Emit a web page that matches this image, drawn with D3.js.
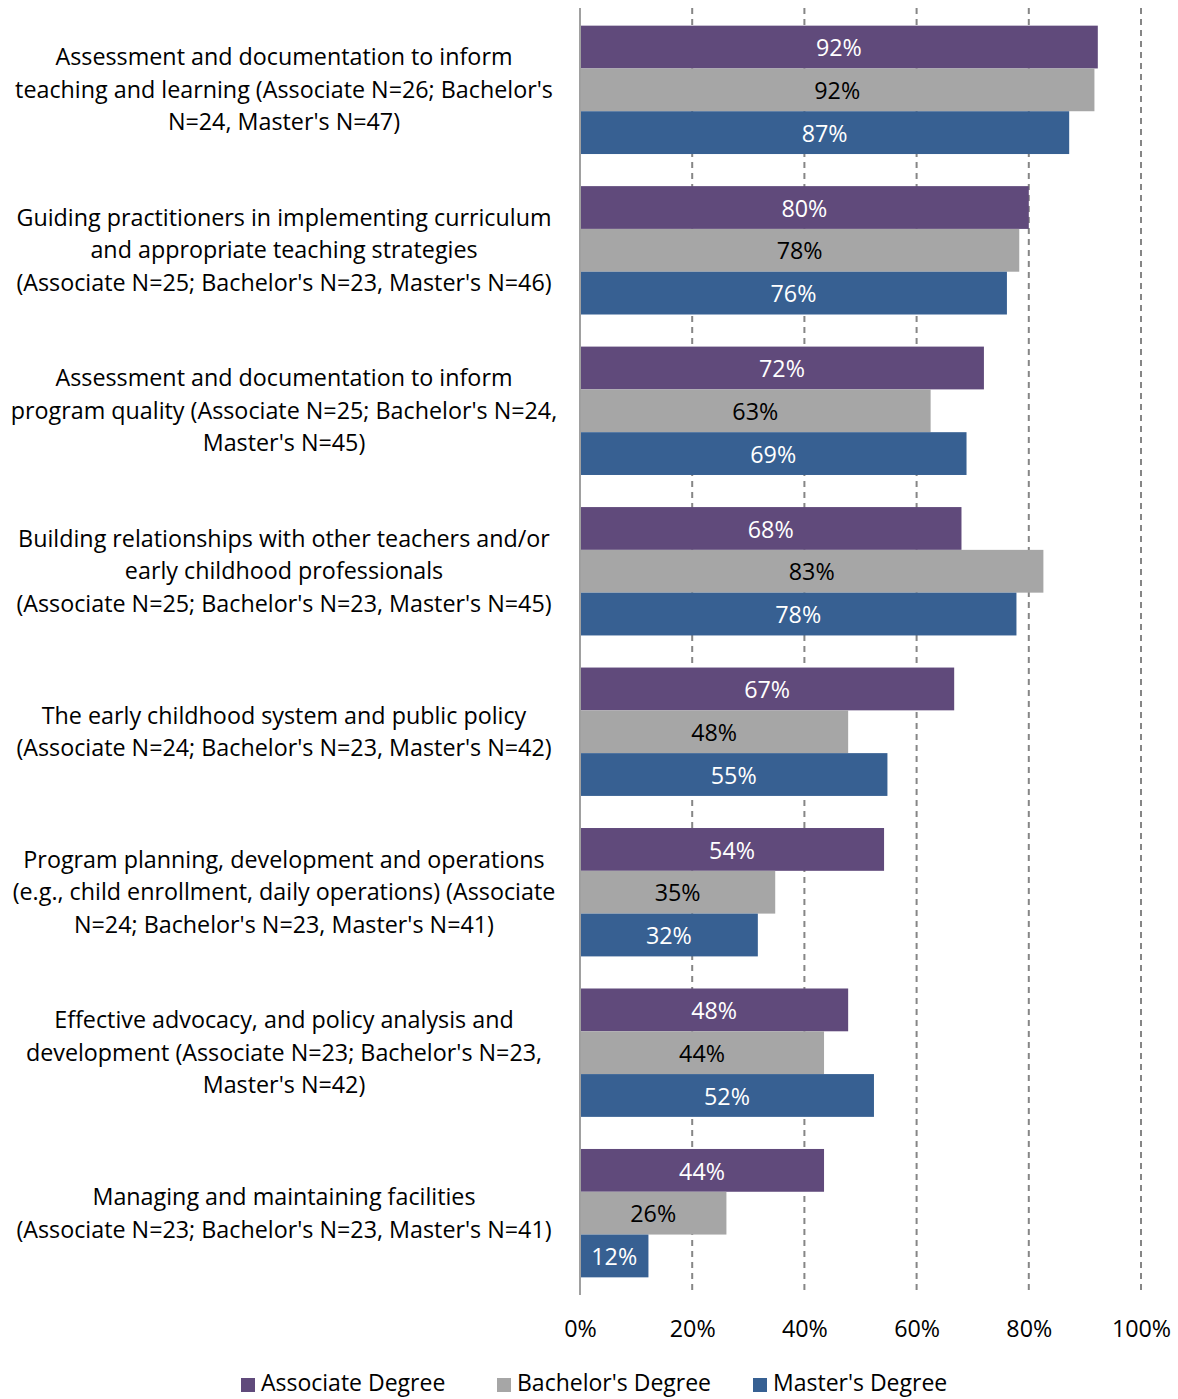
<!DOCTYPE html>
<html>
<head>
<meta charset="utf-8">
<script src="https://cdn.jsdelivr.net/npm/d3@7"></script>
<style>
  html, body { margin: 0; padding: 0; background: #fff; }
  svg text { font-family: "Open Sans", "Noto Sans", sans-serif; }
</style>
</head>
<body>
<svg id="chart" width="1178" height="1399"></svg>
<script>
// Topic labels (each entry is a list of wrapped lines)
const categories = [
  ["Assessment and documentation to inform", "teaching and learning (Associate N=26; Bachelor's", "N=24, Master's N=47)"],
  ["Guiding practitioners in implementing curriculum", "and appropriate teaching strategies", "(Associate N=25; Bachelor's N=23, Master's N=46)"],
  ["Assessment and documentation to inform", "program quality (Associate N=25; Bachelor's N=24,", "Master's N=45)"],
  ["Building relationships with other teachers and/or", "early childhood professionals", "(Associate N=25; Bachelor's N=23, Master's N=45)"],
  ["The early childhood system and public policy", "(Associate N=24; Bachelor's N=23, Master's N=42)"],
  ["Program planning, development and operations", "(e.g., child enrollment, daily operations) (Associate", "N=24; Bachelor's N=23, Master's N=41)"],
  ["Effective advocacy, and policy analysis and", "development (Associate N=23; Bachelor's N=23,", "Master's N=42)"],
  ["Managing and maintaining facilities", "(Associate N=23; Bachelor's N=23, Master's N=41)"]
];

const seriesNames = ["Associate Degree", "Bachelor's Degree", "Master's Degree"];

// Percent of respondents per topic
const associate = [92.3, 80.0, 72.0, 68.0, 66.7, 54.2, 47.8, 43.5];
const bachelor  = [91.7, 78.3, 62.5, 82.6, 47.8, 34.8, 43.5, 26.1];
const master    = [87.2, 76.1, 68.9, 77.8, 54.8, 31.7, 52.4, 12.2];

const xTicks = [0, 20, 40, 60, 80, 100];

const colors = ["#604A7B", "#A6A6A6", "#376092"];
const labelColors = ["#ffffff", "#000000", "#ffffff"];

const series = [associate, bachelor, master];

const fontSize = 23.3;

const svg = d3.select("#chart");
const margin = { left: 580, right: 37, top: 8, bottom: 104 };
const width = 1178 - margin.left - margin.right;
const height = 1399 - margin.top - margin.bottom;

const g = svg.append("g").attr("transform", `translate(${margin.left},${margin.top})`);

const x = d3.scaleLinear().domain([0, 100]).range([0, width]);
const y = d3.scaleBand().domain(d3.range(categories.length)).range([0, height])
  .paddingInner(0.2).paddingOuter(0.11);
const ySub = d3.scaleBand().domain(d3.range(series.length)).range([0, y.bandwidth()]);

// Dashed gridlines
g.append("g").selectAll("line")
  .data(xTicks.filter(t => t > 0))
  .join("line")
  .attr("x1", d => x(d)).attr("x2", d => x(d))
  .attr("y1", 0).attr("y2", height)
  .attr("stroke", "#868686").attr("stroke-width", 2)
  .attr("stroke-dasharray", "6,5");

// Bars
const groups = g.selectAll("g.cat")
  .data(categories.map((c, i) => i))
  .join("g").attr("class", "cat")
  .attr("transform", i => `translate(0,${y(i)})`);

groups.selectAll("rect")
  .data(i => series.map((s, k) => ({ k, v: s[i] })))
  .join("rect")
  .attr("x", 0)
  .attr("y", d => ySub(d.k))
  .attr("width", d => x(d.v))
  .attr("height", ySub.bandwidth())
  .attr("fill", d => colors[d.k]);

groups.selectAll("text.val")
  .data(i => series.map((s, k) => ({ k, v: s[i] })))
  .join("text").attr("class", "val")
  .attr("x", d => x(d.v) / 2)
  .attr("y", d => ySub(d.k) + ySub.bandwidth() / 2 + 1)
  .attr("dy", "0.35em")
  .attr("text-anchor", "middle")
  .attr("font-size", fontSize)
  .attr("fill", d => labelColors[d.k])
  .text(d => Math.round(d.v) + "%");

// Vertical axis line
g.append("line")
  .attr("x1", 0).attr("x2", 0).attr("y1", 0).attr("y2", height)
  .attr("stroke", "#A0A0A0").attr("stroke-width", 2);

// X axis tick labels
const xAxis = d3.axisBottom(x).tickValues(xTicks).tickFormat(d => d + "%").tickSize(0).tickPadding(25);
const ax = g.append("g").attr("transform", `translate(0,${height})`).call(xAxis);
ax.select(".domain").remove();
ax.selectAll("text").attr("font-size", fontSize).attr("fill", "#000")
  .style("font-family", "'Open Sans', 'Noto Sans', sans-serif");

// Category labels
const catLabels = svg.append("g");
categories.forEach((lines, i) => {
  const cy = margin.top + y(i) + y.bandwidth() / 2;
  const lh = 32.5;
  const t = catLabels.append("text")
    .attr("x", 284)
    .attr("text-anchor", "middle")
    .attr("font-size", fontSize)
    .attr("fill", "#000");
  lines.forEach((line, j) => {
    t.append("tspan")
      .attr("x", 284)
      .attr("y", cy + (j - (lines.length - 1) / 2) * lh)
      .attr("dy", "0.35em")
      .text(line);
  });
});

// Legend
const legendX = [241, 497, 753];
const legend = svg.append("g").attr("transform", "translate(0,1384)");
seriesNames.forEach((name, k) => {
  legend.append("rect").attr("x", legendX[k]).attr("y", -6).attr("width", 14).attr("height", 14).attr("fill", colors[k]);
  legend.append("text").attr("x", legendX[k] + 20).attr("y", 0).attr("dy", "0.3em")
    .attr("font-size", 23).attr("fill", "#000").text(name);
});
</script>
</body>
</html>
